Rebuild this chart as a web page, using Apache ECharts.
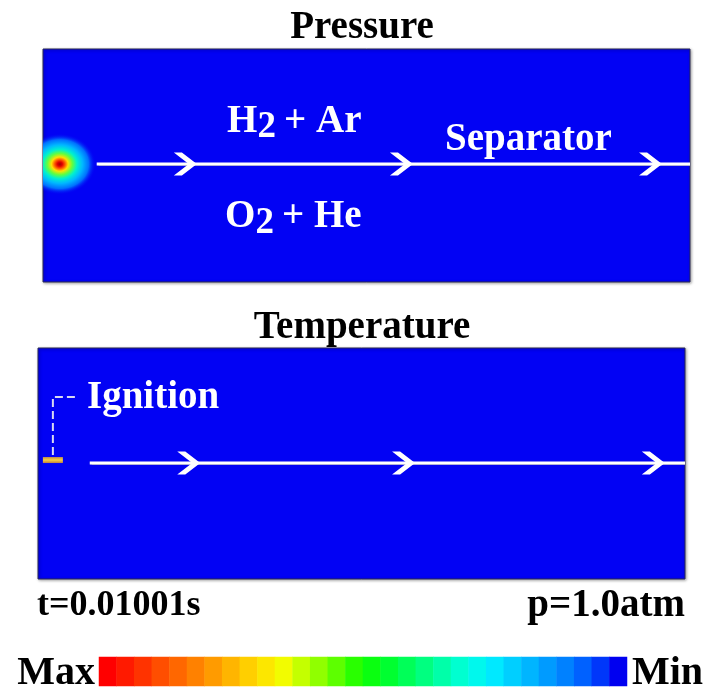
<!DOCTYPE html>
<html><head><meta charset="utf-8">
<script src="https://cdn.jsdelivr.net/npm/echarts@6/dist/echarts.min.js"></script>
<style>html,body{margin:0;padding:0;background:#fff}#c{width:705px;height:688px}</style>
</head><body><div id="c"></div>
<script>
// ---- data (panel coordinates: 0..100 across each channel) ----
const pressureFlowX = [8.3, 100];
const pressureFlowY = 50.6;
const pressureChevronX = [22.0, 55.4, 93.9];
const pressureHotspot = [2.6, 50.6];
const temperatureFlowX = [8.0, 100];
const temperatureFlowY = 50.2;
const temperatureChevronX = [23.3, 56.5, 95.1];
const ignitionSpot = [2.3, 51.5];
const ignitionLeaderX = [2.3, 2.3, 6.2];
const ignitionLeaderY = [53.7, 78.8, 78.8];
const colorbarLevels = [29,28,27,26,25,24,23,22,21,20,19,18,17,16,15,14,13,12,11,10,9,8,7,6,5,4,3,2,1,0];
const panelTitles = ['Pressure', 'Temperature'];
const streamLabels = [['H', '2', '+ Ar'], ['O', '2', '+ He'], 'Separator', 'Ignition'];
const infoLabels = ['t=0.01001s', 'p=1.0atm'];
const scaleLabels = ['Max', 'Min'];

// ---- styling ----
const FONT = '"Liberation Serif", "Times New Roman", serif';
const BLUE = '#0202f4';
const chevron = 'path://M0,0 L7,0 L20,11 L7,22 L0,22 L13,11 Z';
const DY = 3;

function txt(text, x, y, align, color, size) {
  return {
    type: 'text', x: x, y: y + DY, z: 100,
    style: {
      text: text, fill: color, font: 'bold ' + size + 'px ' + FONT,
      align: align, verticalAlign: 'middle',
      textAlign: align, textVerticalAlign: 'middle'
    }
  };
}
function chem(parts, x, y) {
  return [
    txt(parts[0], x, y, 'left', '#fff', 39),
    txt(parts[1], x + 30.5, y + 6, 'left', '#fff', 37),
    txt(parts[2], x + 57, y, 'left', '#fff', 39)
  ];
}

const panelGrid = {
  show: true, backgroundColor: BLUE, borderColor: '#2a2a55', borderWidth: 1,
  shadowColor: 'rgba(0,0,0,0.35)', shadowBlur: 3, shadowOffsetX: 1, shadowOffsetY: 1
};
const hidden = { show: false };

const chart = echarts.init(document.getElementById('c'));
chart.setOption({
  animation: false,
  grid: [
    Object.assign({ left: 43, top: 49, width: 647, height: 233 }, panelGrid),
    Object.assign({ left: 38, top: 348, width: 647, height: 231 }, panelGrid),
    { left: 99, top: 657, width: 528, height: 29, show: false }
  ],
  xAxis: [
    Object.assign({ type: 'value', gridIndex: 0, min: 0, max: 100 }, hidden),
    Object.assign({ type: 'value', gridIndex: 1, min: 0, max: 100 }, hidden),
    Object.assign({ type: 'category', gridIndex: 2, data: colorbarLevels.map(String) }, hidden)
  ],
  yAxis: [
    Object.assign({ type: 'value', gridIndex: 0, min: 0, max: 100 }, hidden),
    Object.assign({ type: 'value', gridIndex: 1, min: 0, max: 100 }, hidden),
    Object.assign({ type: 'category', gridIndex: 2, data: ['scale'] }, hidden)
  ],
  visualMap: {
    show: false, type: 'continuous', seriesIndex: 7, dimension: 2, min: 0, max: 29,
    inRange: { color: ['#0000f0', '#0050ff', '#007eff', '#00a4ff', '#00caff', '#00f0ff', '#00ffdc', '#00ffa3', '#00ff68', '#00ff2e',
      '#0fff00', '#5aff00', '#a5ff00', '#f0ff00', '#ffe100', '#ffbb00', '#ff9600', '#ff7000', '#ff4b00', '#ff2500', '#ff0000'] }
  },
  series: [
    {
      type: 'custom', xAxisIndex: 0, yAxisIndex: 0, clip: true, z: 1,
      data: [pressureHotspot],
      renderItem: function (params, api) {
        const p = api.coord([api.value(0), api.value(1)]);
        return {
          type: 'circle', x: p[0], y: p[1], scaleY: 0.85,
          shape: { cx: 0, cy: 0, r: 36 },
          style: {
            fill: new echarts.graphic.RadialGradient(0.5, 0.5, 0.5, [
              { offset: 0, color: '#a00000' },
              { offset: 0.07, color: '#e00000' },
              { offset: 0.15, color: '#ff6000' },
              { offset: 0.23, color: '#ffe000' },
              { offset: 0.35, color: '#60ff40' },
              { offset: 0.48, color: '#00f0d0' },
              { offset: 0.63, color: '#00b8ff' },
              { offset: 0.8, color: '#0070ff' },
              { offset: 1, color: 'rgba(2,2,244,0)' }
            ])
          }
        };
      }
    },
    {
      type: 'line', xAxisIndex: 0, yAxisIndex: 0, symbol: 'none', z: 3,
      data: pressureFlowX.map(x => [x, pressureFlowY]),
      lineStyle: { color: '#ffffff', width: 3, shadowColor: 'rgba(120,120,160,0.8)', shadowBlur: 1 }
    },
    {
      type: 'scatter', xAxisIndex: 0, yAxisIndex: 0, symbol: chevron, symbolSize: [23, 23], z: 4,
      data: pressureChevronX.map(x => [x, pressureFlowY]),
      itemStyle: { color: '#ffffff', opacity: 1 }
    },
    {
      type: 'line', xAxisIndex: 1, yAxisIndex: 1, symbol: 'none', z: 3,
      data: temperatureFlowX.map(x => [x, temperatureFlowY]),
      lineStyle: { color: '#ffffff', width: 3, shadowColor: 'rgba(120,120,160,0.8)', shadowBlur: 1 }
    },
    {
      type: 'scatter', xAxisIndex: 1, yAxisIndex: 1, symbol: chevron, symbolSize: [23, 23], z: 4,
      data: temperatureChevronX.map(x => [x, temperatureFlowY]),
      itemStyle: { color: '#ffffff', opacity: 1 }
    },
    {
      type: 'line', xAxisIndex: 1, yAxisIndex: 1, symbol: 'none', z: 3,
      data: ignitionLeaderX.map((x, i) => [x, ignitionLeaderY[i]]),
      lineStyle: { color: '#d8d8f0', width: 2, type: [8, 4] }
    },
    {
      type: 'scatter', xAxisIndex: 1, yAxisIndex: 1, symbol: 'rect', symbolSize: [20, 6], z: 4,
      data: [ignitionSpot],
      itemStyle: {
        opacity: 1,
        color: new echarts.graphic.LinearGradient(0, 0, 0, 1, [
          { offset: 0, color: '#c09050' }, { offset: 0.5, color: '#f8d040' }, { offset: 1, color: '#c08040' }
        ])
      }
    },
    {
      type: 'heatmap', xAxisIndex: 2, yAxisIndex: 2,
      data: colorbarLevels.map((v, i) => [i, 0, v]),
      itemStyle: { borderWidth: 0 }
    }
  ],
  graphic: [
    txt(panelTitles[0], 362, 25, 'center', '#000', 39),
    txt(panelTitles[1], 362, 325, 'center', '#000', 39),
    ...chem(streamLabels[0], 227, 118.5),
    ...chem(streamLabels[1], 225, 214),
    txt(streamLabels[2], 445, 137, 'left', '#fff', 39),
    txt(streamLabels[3], 87, 395, 'left', '#fff', 39),
    txt(infoLabels[0], 37, 603, 'left', '#000', 36),
    txt(infoLabels[1], 685, 603, 'right', '#000', 39),
    txt(scaleLabels[0], 95, 671, 'right', '#000', 40),
    txt(scaleLabels[1], 632, 671, 'left', '#000', 40)
  ]
});
</script>
</body></html>
